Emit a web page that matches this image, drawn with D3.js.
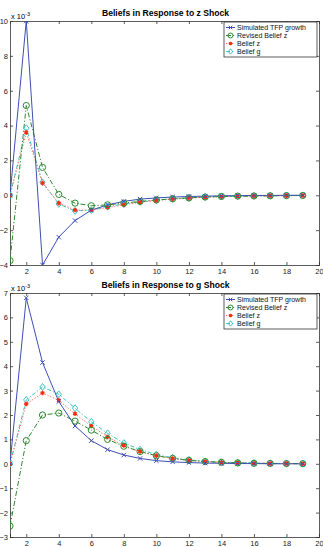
<!DOCTYPE html>
<html>
<head>
<meta charset="utf-8">
<script src="https://cdn.jsdelivr.net/npm/d3@7"></script>
<style>
  html, body { margin: 0; padding: 0; background: #fff; }
  svg { display: block; }
  text { font-family: "Liberation Sans", Arial, sans-serif; }
</style>
</head>
<body>
<svg id="chart" width="323" height="547"></svg>
<script>
// Periods after the shock
const periods = d3.range(1, 20);

// Response to a z shock (values in units of 1e-3)
const zShockTFP      = [0, 10, -4, -2.4, -1.45, -0.85, -0.55, -0.35, -0.22, -0.15, -0.1, -0.07, -0.05, -0.03, -0.02, -0.01, -0.01, 0, 0];
const zShockRevisedZ = [-3.75, 5.15, 1.6, 0.05, -0.45, -0.6, -0.55, -0.45, -0.35, -0.27, -0.2, -0.15, -0.1, -0.07, -0.05, -0.04, -0.03, -0.02, -0.01];
const zShockBeliefZ  = [0, 3.6, 0.7, -0.45, -0.85, -0.85, -0.7, -0.55, -0.4, -0.3, -0.22, -0.16, -0.11, -0.08, -0.06, -0.04, -0.03, -0.02, -0.01];
const zShockBeliefG  = [0, 3.85, 0.75, -0.5, -0.9, -0.85, -0.65, -0.5, -0.38, -0.28, -0.2, -0.15, -0.1, -0.07, -0.05, -0.03, -0.02, -0.01, -0.01];

// Response to a g shock (values in units of 1e-3)
const gShockTFP      = [0, 6.8, 4.15, 2.55, 1.55, 0.95, 0.58, 0.36, 0.22, 0.13, 0.08, 0.05, 0.03, 0.02, 0.01, 0.01, 0, 0, 0];
const gShockRevisedZ = [-2.55, 0.95, 2.0, 2.08, 1.75, 1.38, 1.0, 0.72, 0.5, 0.33, 0.22, 0.14, 0.09, 0.06, 0.04, 0.02, 0.015, 0.01, 0.005];
const gShockBeliefZ  = [0, 2.45, 2.9, 2.6, 2.05, 1.55, 1.1, 0.75, 0.5, 0.33, 0.22, 0.14, 0.09, 0.06, 0.04, 0.02, 0.015, 0.01, 0.005];
const gShockBeliefG  = [0, 2.62, 3.15, 2.85, 2.28, 1.72, 1.25, 0.85, 0.58, 0.38, 0.25, 0.16, 0.1, 0.07, 0.04, 0.03, 0.02, 0.01, 0.005];

const seriesNames = ["Simulated TFP growth", "Revised Belief z", "Belief z", "Belief g"];

const xTicks = d3.range(2, 21, 2);
const zShockYTicks = d3.range(-4, 11, 2);
const gShockYTicks = d3.range(-3, 8, 1);

// Line and marker styling per series
const styles = [
  { color: "#3f4fb5", dash: null,        marker: "x" },
  { color: "#2f8a2f", dash: "5,2,1.2,2", marker: "o" },
  { color: "#ff6a4a", dash: "1.2,1.8",   marker: "*" },
  { color: "#3cc4c4", dash: "4,2,1.2,2", marker: "d" }
];

const svg = d3.select("#chart");

function drawMarker(g, type, x, y, color, scale = 1) {
  if (type === "x") {
    const s = 2.2 * scale;
    g.append("path")
      .attr("d", `M${x - s},${y - s}L${x + s},${y + s}M${x - s},${y + s}L${x + s},${y - s}`)
      .attr("stroke", color).attr("stroke-width", 1).attr("fill", "none");
  } else if (type === "o") {
    g.append("circle").attr("cx", x).attr("cy", y).attr("r", 3.1 * scale)
      .attr("fill", "none").attr("stroke", color).attr("stroke-width", 1);
  } else if (type === "*") {
    g.append("path")
      .attr("d", d3.symbol(d3.symbolAsterisk, 14 * scale * scale)())
      .attr("transform", `translate(${x},${y})`)
      .attr("stroke", "#ff2a10").attr("stroke-width", 1.4).attr("fill", "none");
    g.append("circle").attr("cx", x).attr("cy", y).attr("r", 1.4 * scale).attr("fill", "#ff2a10");
  } else if (type === "d") {
    const s = 3.4 * scale;
    g.append("path")
      .attr("d", `M${x},${y - s}L${x + s * 0.8},${y}L${x},${y + s}L${x - s * 0.8},${y}Z`)
      .attr("fill", "none").attr("stroke", color).attr("stroke-width", 1);
  }
}

function drawPanel(opts) {
  const { left, right, top, bottom, yDomain, yTicks, series, title, legendTop } = opts;
  const x = d3.scaleLinear().domain([1, 20]).range([left, right]);
  const y = d3.scaleLinear().domain(yDomain).range([bottom, top]);
  const g = svg.append("g");

  // Title
  g.append("text")
    .attr("x", (left + right) / 2 + 1).attr("y", top - 5)
    .attr("text-anchor", "middle")
    .attr("font-size", 8.6).attr("font-weight", "bold")
    .text(title);

  // Exponent label
  const ex = g.append("text").attr("x", left + 1).attr("y", top - 2).attr("font-size", 7.5);
  ex.append("tspan").text("x 10");
  ex.append("tspan").attr("dy", -3).attr("font-size", 5.5).text("-3");

  // Axes with inward ticks on all four sides
  const tickLen = 3;
  g.append("g").attr("transform", `translate(0,${bottom})`)
    .call(d3.axisBottom(x).tickValues(xTicks).tickSize(-tickLen).tickPadding(4).tickFormat(d3.format("d")));
  g.append("g").attr("transform", `translate(0,${top})`)
    .call(d3.axisTop(x).tickValues(xTicks).tickSize(-tickLen).tickFormat(""));
  g.append("g").attr("transform", `translate(${left},0)`)
    .call(d3.axisLeft(y).tickValues(yTicks).tickSize(-tickLen).tickPadding(2).tickFormat(d3.format("d")));
  g.append("g").attr("transform", `translate(${right},0)`)
    .call(d3.axisRight(y).tickValues(yTicks).tickSize(-tickLen).tickFormat(""));
  g.selectAll(".domain").attr("stroke", "#333").attr("stroke-width", 0.8);
  g.selectAll(".tick line").attr("stroke", "#333").attr("stroke-width", 0.8);
  g.selectAll(".tick text").attr("font-size", 7.5).attr("font-family", "Liberation Sans, Arial, sans-serif").attr("fill", "#222");

  // Clip to the axes box
  const clipId = "clip" + Math.round(top);
  svg.append("clipPath").attr("id", clipId)
    .append("rect").attr("x", left).attr("y", top).attr("width", right - left).attr("height", bottom - top);
  const plot = g.append("g").attr("clip-path", `url(#${clipId})`);

  const line = d3.line().x((d, i) => x(periods[i])).y(d => y(d));
  // Draw back to front: belief g, belief z, revised z, TFP
  [3, 2, 1, 0].forEach(k => {
    const st = styles[k];
    plot.append("path").datum(series[k]).attr("d", line)
      .attr("fill", "none").attr("stroke", st.color).attr("stroke-width", 1)
      .attr("stroke-dasharray", st.dash);
  });
  [3, 2, 1, 0].forEach(k => {
    const st = styles[k];
    const mg = plot.append("g");
    series[k].forEach((v, i) => drawMarker(mg, st.marker, x(periods[i]), y(v), st.color));
  });

  // Legend
  const lx = 224, lw = 93, rowH = 8;
  const lg = g.append("g");
  lg.append("rect").attr("x", lx).attr("y", legendTop).attr("width", lw).attr("height", rowH * 4 + 3)
    .attr("fill", "#fff").attr("stroke", "#333").attr("stroke-width", 0.8);
  seriesNames.forEach((name, k) => {
    const st = styles[k];
    const cy = legendTop + 5.5 + k * rowH;
    lg.append("line").attr("x1", lx + 2).attr("x2", lx + 11).attr("y1", cy).attr("y2", cy)
      .attr("stroke", st.color).attr("stroke-width", 1).attr("stroke-dasharray", st.dash);
    drawMarker(lg, st.marker, lx + 6.5, cy, st.color, 0.8);
    lg.append("text").attr("x", lx + 13).attr("y", cy + 2.5).attr("font-size", 7)
      .attr("fill", "#111").text(name);
  });
}

drawPanel({
  left: 10, right: 319, top: 21, bottom: 265,
  yDomain: [-4, 10], yTicks: zShockYTicks,
  series: [zShockTFP, zShockRevisedZ, zShockBeliefZ, zShockBeliefG],
  title: "Beliefs in Response to z Shock",
  legendTop: 22
});

drawPanel({
  left: 10, right: 319, top: 293, bottom: 537,
  yDomain: [-3, 7], yTicks: gShockYTicks,
  series: [gShockTFP, gShockRevisedZ, gShockBeliefZ, gShockBeliefG],
  title: "Beliefs in Response to g Shock",
  legendTop: 294
});
</script>
</body>
</html>
